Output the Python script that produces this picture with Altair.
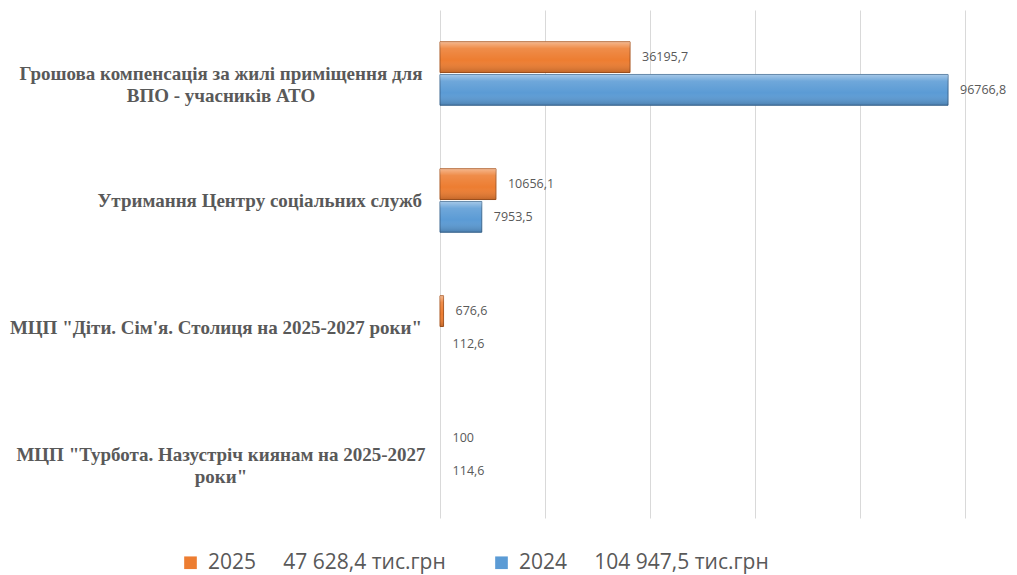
import altair as alt
import pandas as pd

categories = [
    "Грошова компенсація за жилі приміщення для\nВПО - учасників АТО",
    "Утримання Центру соціальних служб",
    "МЦП \"Діти. Сім'я. Столиця на 2025-2027 роки\"",
    "МЦП \"Турбота. Назустріч киянам на 2025-2027\nроки\"",
]
series = ["2025", "2024"]
values_2025 = [36195.7, 10656.1, 676.6, 100]
values_2024 = [96766.8, 7953.5, 112.6, 114.6]
totals = ["47 628,4", "104 947,5"]
colors = ["#ED7D31", "#5B9BD5"]
strokes = ["#A85620", "#3A6791"]
grid_values = [0, 20000, 40000, 60000, 80000, 100000]


def fmt(v):
    if float(v).is_integer():
        return str(int(v))
    return f"{v:.1f}".replace(".", ",")


rows = []
for cat, v25, v24 in zip(categories, values_2025, values_2024):
    rows.append({"cat": cat, "series": series[0], "value": v25, "label": fmt(v25)})
    rows.append({"cat": cat, "series": series[1], "value": v24, "label": fmt(v24)})
df = pd.DataFrame(rows)

cat_df = pd.DataFrame({"cat": categories, "multi": ["\n" in c for c in categories]})

nb = "\u00a0" * 5
legend_map = {s: f"{s}{nb}{t} тис.грн" for s, t in zip(series, totals)}
label_expr = " : ".join(
    [f"datum.label == '{s}' ? '{legend_map[s]}'" for s in series[:-1]]
    + [f"'{legend_map[series[-1]]}'"]
)

y_enc = alt.Y(
    "cat:N",
    sort=categories,
    scale=alt.Scale(paddingInner=0.5, paddingOuter=0.25),
    axis=None,
)
x_enc = alt.X(
    "value:Q",
    scale=alt.Scale(domain=[0, 100000], nice=False),
    axis=alt.Axis(
        values=grid_values,
        labels=False,
        ticks=False,
        domain=False,
        title="",
        grid=True,
        gridColor="#D9D9D9",
        gridWidth=1,
    ),
)
yoff_enc = alt.YOffset("series:N", sort=series, scale=alt.Scale(paddingInner=0.06))

base = alt.Chart(df).encode(x=x_enc, y=y_enc, yOffset=yoff_enc)

bars = base.mark_bar(strokeWidth=1).encode(
    color=alt.Color(
        "series:N",
        sort=series,
        scale=alt.Scale(domain=series, range=colors),
        legend=alt.Legend(
            orient="none",
            legendX=-260,
            legendY=542,
            direction="horizontal",
            title=None,
            symbolType="square",
            symbolSize=160,
            symbolStrokeWidth=0,
            labelFont="Open Sans",
            labelFontSize=21,
            labelColor="#595959",
            labelExpr=label_expr,
            labelLimit=600,
            labelOffset=7,
            columnPadding=45,
        ),
    ),
    stroke=alt.Stroke(
        "series:N", sort=series, scale=alt.Scale(domain=series, range=strokes), legend=None
    ),
    strokeOpacity=alt.condition("datum.value > 300", alt.value(1), alt.value(0)),
    fillOpacity=alt.condition("datum.value > 300", alt.value(1), alt.value(0)),
)

overlay = base.mark_bar(
    fill=alt.LinearGradient(
        gradient="linear",
        x1=0, y1=0, x2=0, y2=1,
        stops=[
            alt.GradientStop(color="rgba(255,255,255,0.45)", offset=0),
            alt.GradientStop(color="rgba(255,255,255,0.12)", offset=0.22),
            alt.GradientStop(color="rgba(255,255,255,0)", offset=0.6),
            alt.GradientStop(color="rgba(0,0,0,0.18)", offset=1),
        ],
    )
).encode(opacity=alt.condition("datum.value > 300", alt.value(1), alt.value(0)))

values_text = base.mark_text(
    align="left",
    baseline="middle",
    dx=12,
    font="Open Sans",
    fontSize=12.5,
    color="#595959",
).encode(text="label:N")

cat_base = alt.Chart(cat_df).encode(y=y_enc, text="cat:N")
cat_multi = cat_base.transform_filter("datum.multi").mark_text(
    align="center",
    baseline="middle",
    lineBreak="\n",
    lineHeight=22,
    font="Liberation Serif",
    fontWeight="bold",
    fontSize=19,
    color="#595959",
).encode(x=alt.value(-219))
cat_single = cat_base.transform_filter("!datum.multi").mark_text(
    align="right",
    baseline="middle",
    font="Liberation Serif",
    fontWeight="bold",
    fontSize=19,
    color="#595959",
).encode(x=alt.value(-18))

chart = (
    alt.layer(bars, overlay, values_text, cat_multi, cat_single)
    .properties(
        width=525,
        height=508,
        padding={"left": 432, "top": 2, "right": 44, "bottom": 56},
        autosize=alt.AutoSizeParams(type="none"),
        background="white",
    )
    .configure_view(stroke=None)
)

chart.save("out.html", embed_options={"renderer": "svg", "actions": False})
